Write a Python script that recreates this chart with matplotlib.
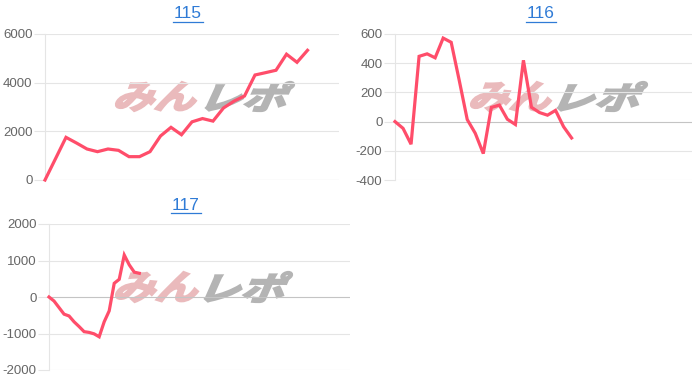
import matplotlib
matplotlib.use("Agg")
import matplotlib.pyplot as plt
from matplotlib.textpath import TextPath
from matplotlib.patches import PathPatch
from matplotlib.font_manager import FontProperties
from matplotlib.transforms import Affine2D, IdentityTransform
from matplotlib.lines import Line2D

# ---------------- data ----------------
titles = ["115", "116", "117"]

values_115 = [0, 875, 1753, 1520, 1274, 1164, 1274, 1219, 959, 959, 1164, 1808,
              2164, 1860, 2390, 2525, 2420, 2960, 3240, 3452, 4315, 4411, 4510,
              5170, 4836, 5330]
values_116 = [0, -46, -155, 447, 464, 437, 572, 543, 283, 14, -80, -219, 97, 113,
              16, -20, 420, 98, 62, 44, 77, -35, -112]
values_117 = [0, -110, -290, -470, -520, -680, -810, -950, -970, -1010, -1090,
              -680, -380, 375, 485, 1150, 880, 680, 650]

n_labels = [29, 38, 61]          # number of x categories on each chart
yticks_115 = [0, 2000, 4000, 6000]
yticks_116 = [-400, -200, 0, 200, 400, 600]
yticks_117 = [-2000, -1000, 0, 1000, 2000]

series = [values_115, values_116, values_117]
yticks = [yticks_115, yticks_116, yticks_117]

# ---------------- layout ----------------
W, H = 700, 383
fig = plt.figure(figsize=(W / 100, H / 100), dpi=100)
fig.patch.set_facecolor("white")

# axes boxes in pixels: left, right, top, bottom
boxes = [(45, 339, 34, 180), (395, 692, 34, 180), (49, 350, 224, 370)]
title_pos = [(188, 14), (541, 14), (186, 205)]
wm_boxes = [(116, 196, 206, 294, 82, 111),
            (471, 551, 558, 647, 82, 111),
            (116, 198, 205, 292, 272, 302)]

line_color = "#ff4d6a"
grid_color = "#e5e5e5"
zero_color = "#c4c4c4"
tick_color = "#666666"
title_color = "#2f7bd6"

fp_wm = FontProperties(family="Noto Sans CJK JP", weight="bold")


def watermark(text, x0, x1, ytop, ybot, color):
    tp = TextPath((0, 0), text, prop=fp_wm, size=20)
    p2 = Affine2D().skew_deg(18, 0).transform_path(tp)
    e = p2.get_extents()
    sx = (x1 - x0) / e.width
    sy = (ybot - ytop) / e.height
    tr = Affine2D().translate(-e.x0, -e.y0).scale(sx, sy).translate(x0, H - ybot)
    patch = PathPatch(tr.transform_path(p2), facecolor=color, edgecolor=color,
                      linewidth=1.6, joinstyle="miter",
                      transform=IdentityTransform(), zorder=0.5)
    fig.add_artist(patch)


title_texts = []
for i in range(3):
    l, r, t, b = boxes[i]
    ax = fig.add_axes([l / W, (H - b) / H, (r - l) / W, (b - t) / H])
    ax.set_facecolor("none")
    ax.set_zorder(1)
    vals = series[i]
    ax.plot(range(len(vals)), vals, color=line_color, lw=2.3,
            solid_joinstyle="miter", clip_on=False, zorder=3)
    ax.set_xlim(0, n_labels[i] - 1)
    ax.set_ylim(yticks[i][0], yticks[i][-1])
    ax.set_yticks(yticks[i])
    ax.set_yticklabels([str(v) for v in yticks[i]])
    ax.set_xticks([])
    for s in ["top", "right", "bottom"]:
        ax.spines[s].set_visible(False)
    ax.spines["left"].set_color(grid_color)
    ax.spines["left"].set_linewidth(0.8)
    ax.tick_params(axis="y", length=8, width=0.8, color=grid_color, pad=1,
                   labelsize=9.5, labelcolor=tick_color)
    for lab in ax.get_yticklabels():
        lab.set_family("Liberation Sans")
    for v in yticks[i]:
        ax.axhline(v, color=zero_color if v == 0 else grid_color, lw=0.8,
                   zorder=1)
    x0, x1, x2, x3, yt, yb = wm_boxes[i]
    watermark("みん", x0, x1, yt, yb, "#eababc")
    watermark("レポ", x2, x3, yt, yb, "#b4b4b4")
    tx, ty = title_pos[i]
    tt = fig.text(tx / W, (H - ty) / H, titles[i], ha="center", va="center",
                  color=title_color, fontsize=12.5, family="Liberation Sans")
    title_texts.append(tt)

fig.canvas.draw()
for tt in title_texts:
    bb = tt.get_window_extent()
    y = bb.y0 - 0.5
    fig.add_artist(Line2D([bb.x0 - 1, bb.x1 + 1], [y, y], color=title_color,
                          lw=0.9, transform=IdentityTransform()))

fig.savefig("out.png", dpi=100, facecolor="white")
